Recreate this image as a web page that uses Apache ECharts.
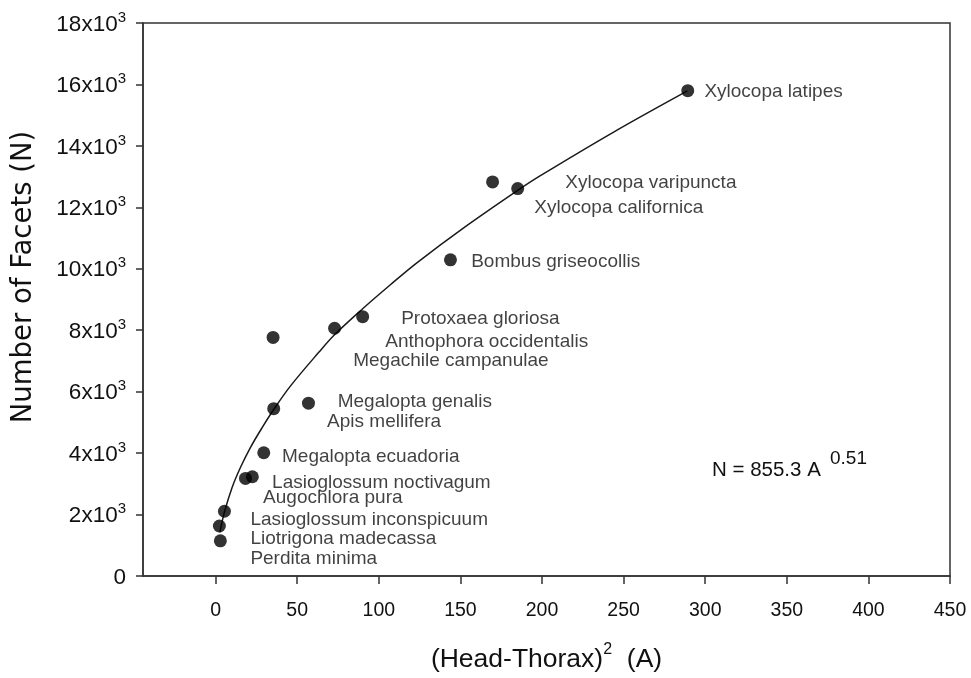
<!DOCTYPE html>
<html>
<head>
<meta charset="utf-8">
<script src="https://cdn.jsdelivr.net/npm/echarts@6/dist/echarts.min.js"></script>
<style>
html,body{margin:0;padding:0;background:#fff;}
#c{width:971px;height:678px;}
</style>
</head>
<body>
<div id="c"></div>
<script>
// Observed points: head-thorax^2 (A) and number of facets (N)
const areaA = [2.9, 2.3, 5.4, 18.3, 22.5, 29.5, 35.6, 56.9, 35.2, 72.9, 90.1, 143.9, 169.7, 185.1, 289.3];
const facetsN = [1146, 1627, 2108, 3177, 3231, 4011, 5446, 5625, 7766, 8064, 8440, 10291, 12826, 12612, 15798];

// Fitted curve
const curveA = [2.6, 5.4, 10.1, 15.2, 21.3, 28.5, 35.6, 45.8, 63.2, 73.0, 90.1, 107.1, 123.5, 152, 185.1, 199, 243.9, 289.1];
const curveN = [1420, 2080, 2880, 3530, 4180, 4830, 5420, 6180, 7280, 7860, 8700, 9480, 10200, 11330, 12550, 13030, 14450, 15790];

// Species labels and their anchor points (data units)
const speciesNames = ["Perdita minima", "Liotrigona madecassa", "Lasioglossum inconspicuum", "Augochlora pura",
  "Lasioglossum noctivagum", "Megalopta ecuadoria", "Apis mellifera", "Megalopta genalis", "Megachile campanulae",
  "Anthophora occidentalis", "Protoxaea gloriosa", "Bombus griseocollis", "Xylocopa californica",
  "Xylocopa varipuncta", "Xylocopa latipes"];
const labelA = [21.3, 21.3, 21.3, 29.1, 34.6, 40.7, 68.3, 74.8, 84.3, 104.0, 113.7, 156.6, 195.3, 214.3, 299.5];
const labelN = [555, 1219, 1819, 2535, 3039, 3893, 5029, 5670, 6996, 7637, 8366, 10237, 11979, 12804, 15746];

// Tick labels
const xTickValues = [0, 50, 100, 150, 200, 250, 300, 350, 400, 450];
const yTickLabels = ["0", "2x10", "4x10", "6x10", "8x10", "10x10", "12x10", "14x10", "16x10", "18x10"];

const FONT = "'Liberation Sans', Arial, Helvetica, sans-serif";
const INK = '#111';
const chart = echarts.init(document.getElementById('c'), null, {renderer: 'canvas'});

const option = {
  animation: false,
  backgroundColor: '#fff',
  grid: {left: 143, top: 23, width: 807, height: 561, show: true, borderColor: '#333', borderWidth: 1.5, backgroundColor: 'transparent'},
  xAxis: {
    type: 'value', min: -44.5, max: 450,
    name: '{m|(Head-Thorax)}{s|2}{m|  (A)}', nameLocation: 'middle', nameGap: 66,
    nameTextStyle: {fontFamily: FONT, fontSize: 26.5, color: INK,
      rich: {m: {fontFamily: FONT, fontSize: 26.5, color: INK, verticalAlign: 'bottom', lineHeight: 31},
             s: {fontFamily: FONT, fontSize: 16, color: INK, verticalAlign: 'top', lineHeight: 31}}},
    axisLine: {show: true, onZero: false, lineStyle: {color: '#333', width: 1.5}},
    axisTick: {show: true, length: 8, lineStyle: {color: '#333', width: 1.5}, customValues: xTickValues},
    axisLabel: {fontFamily: FONT, fontSize: 19.5, color: INK, margin: 25, customValues: xTickValues},
    splitLine: {show: false}
  },
  yAxis: {
    type: 'value', min: 0, max: 18000, interval: 2000,
    axisLine: {show: true, onZero: false, lineStyle: {color: '#333', width: 1.5}},
    axisTick: {show: true, length: 7, lineStyle: {color: '#333', width: 1.5}},
    axisLabel: {fontFamily: FONT, fontSize: 22.5, color: INK, margin: 17,
      formatter: function (v) {
        const t = yTickLabels[Math.round(v / 2000)];
        return v === 0 ? '{m|' + t + '}' : '{m|' + t + '}{s|3}';
      },
      rich: {m: {fontFamily: FONT, fontSize: 22.5, color: INK, verticalAlign: 'bottom', lineHeight: 26},
             s: {fontFamily: FONT, fontSize: 15, color: INK, verticalAlign: 'top', lineHeight: 26}}},
    splitLine: {show: false}
  },
  series: [
    {
      type: 'line', data: curveA.map((a, i) => [a, curveN[i]]),
      smooth: 0.35, showSymbol: false, symbol: 'none', silent: true,
      lineStyle: {color: '#1a1a1a', width: 1.5}, z: 2
    },
    {
      type: 'scatter', data: areaA.map((a, i) => [a, facetsN[i]]),
      symbol: 'circle', symbolSize: 13, itemStyle: {color: '#000'}, silent: true, z: 3
    },
    {
      type: 'scatter', symbolSize: 0, silent: true, z: 4,
      data: labelA.map((a, i) => ({name: speciesNames[i], value: [a, labelN[i]]})),
      label: {show: true, position: 'right', distance: 0, formatter: '{b}',
        fontFamily: FONT, fontSize: 19, color: INK, align: 'left', verticalAlign: 'middle'}
    }
  ],
  graphic: [
    {type: 'text', x: 24, y: 277, rotation: Math.PI / 2, silent: true,
      style: {text: 'Number of Facets (N)', x: 0, y: 0, align: 'center', verticalAlign: 'middle',
        fontFamily: "'DejaVu Sans', 'Liberation Sans', Arial, sans-serif", fontSize: 27.5, fill: INK}},
    {type: 'text', left: 712, top: 460, silent: true,
      style: {text: 'N = 855.3 A', fontFamily: FONT, fontSize: 20.5, fill: INK}},
    {type: 'text', left: 830, top: 449, silent: true,
      style: {text: '0.51', fontFamily: FONT, fontSize: 19, fill: INK}}
  ]
};
chart.setOption(option);
</script>
</body>
</html>
